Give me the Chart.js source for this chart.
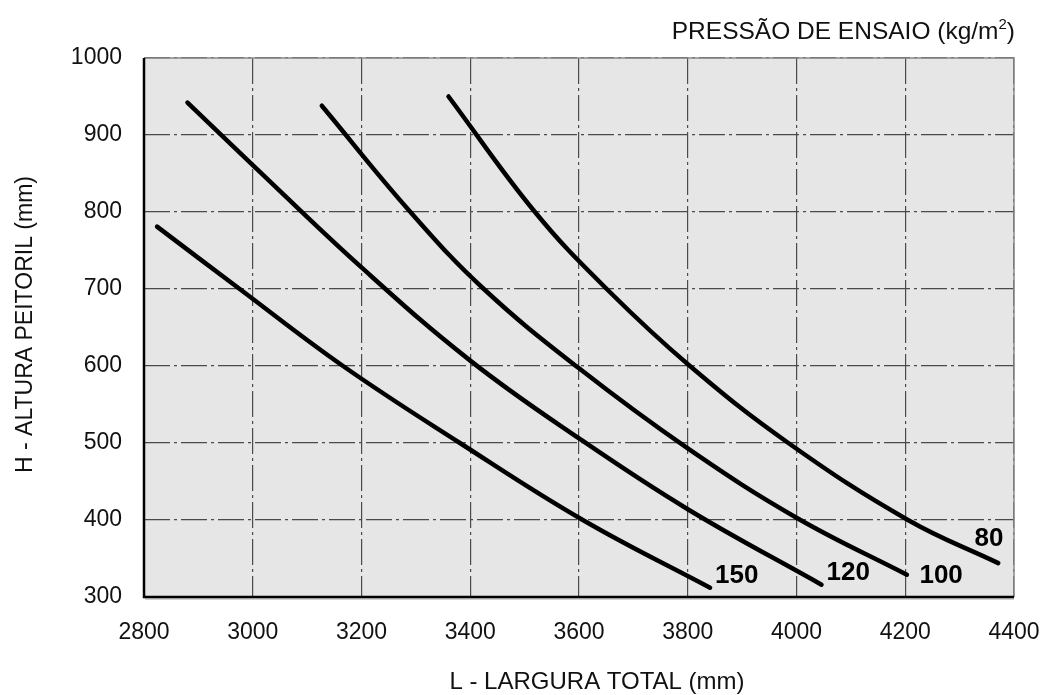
<!DOCTYPE html>
<html>
<head>
<meta charset="utf-8">
<script src="https://cdn.jsdelivr.net/npm/chart.js@4"></script>
<style>
  html, body { margin: 0; padding: 0; background: #ffffff; }
  #wrap { width: 1044px; height: 695px; }
</style>
</head>
<body>
<div id="wrap"><canvas id="c" width="1044" height="695"></canvas></div>
<script>
// ---- data ----
const seriesNames = ['80', '100', '120', '150'];
const curve80X  = [3360, 3519, 3651, 3804, 3985, 4205, 4371];
const curve80Y  = [950, 800, 700, 600, 500, 400, 344];
const curve100X = [3127, 3290, 3425, 3600, 3800, 4000, 4203];
const curve100Y = [938, 800, 700, 597, 493, 403, 329];
const curve120X = [2880, 3000, 3200, 3400, 3600, 3800, 4046];
const curve120Y = [942, 861, 728, 607, 506, 414, 316];
const curve150X = [2824, 2976, 3166, 3381, 3607, 3841];
const curve150Y = [781, 700, 600, 500, 400, 312];
// curve label anchor points (data coordinates)
const labelX = [4354, 4266, 4095, 3890];
const labelY = [375, 327, 332, 327];
const xTicks = [2800, 3000, 3200, 3400, 3600, 3800, 4000, 4200, 4400];
const yTicks = [300, 400, 500, 600, 700, 800, 900, 1000];
const xTitle = 'L - LARGURA TOTAL (mm)';
const yTitle = 'H - ALTURA PEITORIL (mm)';
const topTitle = 'PRESSÃO DE ENSAIO (kg/m';
const topTitleSup = '2';

const FONT = '"Liberation Sans", Arial, Helvetica, sans-serif';
const toPts = (xs, ys) => xs.map((x, i) => ({x: x, y: ys[i]}));
const allX = [curve80X, curve100X, curve120X, curve150X];
const allY = [curve80Y, curve100Y, curve120Y, curve150Y];

const datasets = seriesNames.map((n, i) => ({
  label: n,
  data: toPts(allX[i], allY[i]),
  borderColor: '#000',
  borderWidth: 4.5,
  borderCapStyle: 'round',
  borderJoinStyle: 'round',
  pointRadius: 0,
  fill: false,
  tension: 0.4
}));

const decor = {
  id: 'decor',
  beforeDraw(chart) {
    const {ctx, chartArea: a} = chart;
    ctx.save();
    ctx.fillStyle = '#e6e6e6';
    ctx.fillRect(a.left, a.top, a.right - a.left, a.bottom - a.top);
    ctx.restore();
  },
  afterDatasetsDraw(chart) {
    const {ctx, chartArea: a, scales} = chart;
    ctx.save();
    // frame: thin grey top/right, thick black left/bottom
    ctx.strokeStyle = '#8a8a8a';
    ctx.lineWidth = 1.5;
    ctx.beginPath();
    ctx.moveTo(a.left, a.top); ctx.lineTo(a.right, a.top); ctx.lineTo(a.right, a.bottom);
    ctx.stroke();
    ctx.strokeStyle = 'rgba(0,0,0,0.18)';
    ctx.lineWidth = 2;
    ctx.beginPath();
    ctx.moveTo(a.left + 1, a.bottom + 2); ctx.lineTo(a.right, a.bottom + 2);
    ctx.stroke();
    ctx.strokeStyle = '#000';
    ctx.lineWidth = 2.5;
    ctx.beginPath();
    ctx.moveTo(a.left, a.top); ctx.lineTo(a.left, a.bottom); ctx.lineTo(a.right, a.bottom);
    ctx.stroke();
    // curve labels
    ctx.fillStyle = '#000';
    ctx.font = 'bold 26px ' + FONT;
    ctx.textAlign = 'center';
    ctx.textBaseline = 'middle';
    seriesNames.forEach((n, i) => {
      ctx.fillText(n, scales.x.getPixelForValue(labelX[i]), scales.y.getPixelForValue(labelY[i]));
    });
    // axis titles
    ctx.fillStyle = '#111';
    ctx.font = '24px ' + FONT;
    ctx.fillText(xTitle, 597, 682);
    ctx.save();
    ctx.font = '23px ' + FONT;
    ctx.translate(26, (a.top + a.bottom) / 2 - 3);
    ctx.rotate(-Math.PI / 2);
    ctx.fillText(yTitle, 0, 0);
    ctx.restore();
    // top-right title with superscript
    const mainFont = '24.5px ' + FONT;
    const supFont = '15px ' + FONT;
    ctx.textAlign = 'right';
    ctx.textBaseline = 'alphabetic';
    ctx.font = mainFont;
    const wParen = ctx.measureText(')').width;
    ctx.font = supFont;
    const wSup = ctx.measureText(topTitleSup).width;
    const right = 1015;
    const base = 39;
    ctx.font = mainFont;
    ctx.fillText(')', right, base);
    ctx.font = supFont;
    ctx.fillText(topTitleSup, right - wParen, base - 10);
    ctx.font = mainFont;
    ctx.fillText(topTitle, right - wParen - wSup, base);
    ctx.restore();
  }
};

const gridStyle = {
  color: '#4a4a4a',
  lineWidth: 1.2,
  drawTicks: false
};

new Chart(document.getElementById('c'), {
  type: 'line',
  data: { datasets: datasets },
  options: {
    responsive: false,
    animation: false,
    events: [],
    layout: { padding: { top: 58, right: 30, left: 0, bottom: 0 } },
    plugins: { legend: { display: false }, tooltip: { enabled: false } },
    scales: {
      x: {
        type: 'linear',
        min: 2800, max: 4400,
        afterBuildTicks: s => { s.ticks = xTicks.map(v => ({value: v})); },
        afterFit: s => { s.height = 98; s.paddingLeft = 0; s.paddingRight = 0; },
        ticks: { font: { family: FONT, size: 23 }, color: '#111', padding: 22, maxRotation: 0,
                 callback: v => String(v) },
        grid: gridStyle,
        border: { display: false, dash: [26, 4, 3, 4] }
      },
      y: {
        type: 'linear',
        min: 300, max: 1000,
        afterBuildTicks: s => { s.ticks = yTicks.map(v => ({value: v})); },
        afterFit: s => { s.width = 144; s.paddingTop = 0; s.paddingBottom = 0; },
        ticks: { font: { family: FONT, size: 23 }, color: '#111', padding: 22,
                 callback: v => String(v) },
        grid: gridStyle,
        border: { display: false, dash: [26, 4, 3, 4] }
      }
    }
  },
  plugins: [decor]
});
</script>
</body>
</html>
